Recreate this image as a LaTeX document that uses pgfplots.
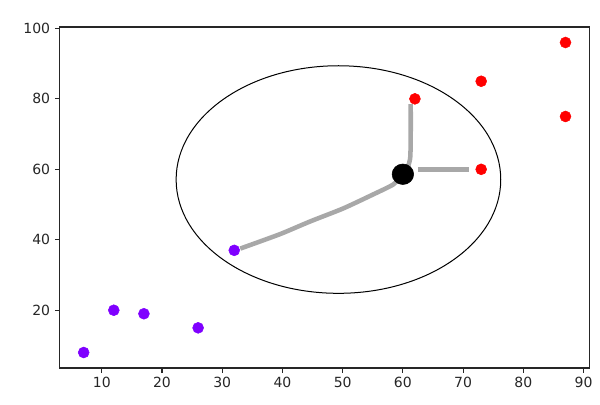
\documentclass[border=0pt]{standalone}
\usepackage{pgfplots}
\pgfplotsset{compat=1.18}
\usepackage{fontspec}
\setmainfont{DejaVu Sans}
\definecolor{mpurple}{HTML}{7F00FF}
\definecolor{mred}{HTML}{FF0000}
\definecolor{pathgray}{HTML}{A8A8A8}
\begin{document}
\begin{tikzpicture}
\path[use as bounding box] (-44.7pt,-27pt) rectangle (405.3pt,276pt);
\begin{axis}[
  scale only axis, width=397.5pt, height=255.75pt,
  xmin=3, xmax=91, ymin=3.6, ymax=100.4,
  xtick={10,20,...,90}, ytick={20,40,...,100},
  tick align=outside, tick pos=left, major tick length=3.6pt,
  axis line style={line width=0.8pt, black!85},
  tick style={line width=0.8pt, black!85},
  ticklabel style={font=\fontsize{10.5}{12}\selectfont, text=black!85},
  /pgf/number format/assume math mode=true,
]
% ellipse
\draw[black, line width=0.75pt] (axis cs:49.3,57.1) ellipse [x radius=26.95, y radius=32.3];
% gray paths
\addplot[pathgray, line width=3.4pt, smooth, tension=0.4] coordinates {
  (33,37.5) (39.6,41.6) (44.6,45.2) (50.1,48.9) (55.1,52.9) (58.4,55.7) (60,58.5)};
\addplot[pathgray, line width=3.4pt, smooth, tension=0.4] coordinates {
  (61.3,78.5) (61.3,70) (61.2,63) (60.5,59)};
\addplot[pathgray, line width=3.4pt] coordinates {(62.5,60) (71,60)};
% points
\addplot[only marks, mark=*, mark size=4.1pt, mpurple, mark options={draw=mpurple, fill=mpurple}] coordinates {
  (7,8) (12,20) (17,19) (26,15) (32,37)};
\addplot[only marks, mark=*, mark size=4.1pt, mred, mark options={draw=mred, fill=mred}] coordinates {
  (62,80) (73,85) (87,96) (87,75) (73,60)};
\addplot[only marks, mark=*, mark size=7.7pt, black, mark options={xscale=1.05}] coordinates {(60,58.6)};
\end{axis}
\end{tikzpicture}
\end{document}
